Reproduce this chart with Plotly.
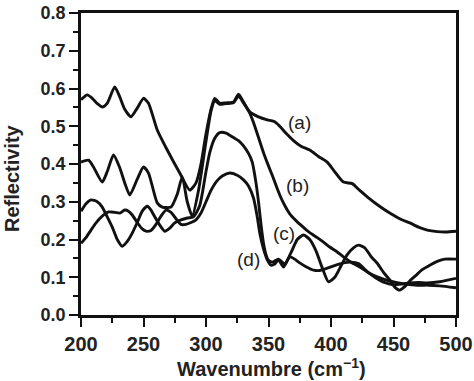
import plotly.graph_objects as go

# Curve (a)
xa = [200, 205, 209, 213, 217, 221, 227, 231, 235, 240, 245, 250, 254, 261, 269, 279, 287, 292, 296, 300,
      304, 307, 311, 316, 322, 326, 330, 335, 342, 349, 355, 359, 365, 370, 376, 383, 390, 397, 402, 410,
      417, 423, 429, 438, 447, 455, 463, 470, 477, 485, 492, 500]
ya = [0.570, 0.583, 0.574, 0.560, 0.551, 0.561, 0.604, 0.578, 0.545, 0.525, 0.548, 0.574, 0.561, 0.490,
      0.437, 0.376, 0.331, 0.350, 0.400, 0.480, 0.545, 0.574, 0.561, 0.562, 0.564, 0.585, 0.564, 0.538,
      0.525, 0.517, 0.512, 0.500, 0.478, 0.462, 0.447, 0.437, 0.420, 0.405, 0.384, 0.352, 0.348, 0.330,
      0.313, 0.290, 0.270, 0.255, 0.244, 0.233, 0.225, 0.221, 0.220, 0.222]

# Curve (b)
xb = [200, 206, 210, 217, 221, 226, 231, 235, 239, 245, 250, 254, 261, 265, 272, 277, 281, 285, 289, 294,
      300, 304, 307, 311, 316, 322, 326, 330, 335, 338, 342, 346, 350, 353, 359, 363, 367, 372, 378, 383,
      389, 394, 399, 405, 410, 416, 423, 430, 437, 447, 457, 469, 478, 487, 500]
yb = [0.405, 0.410, 0.392, 0.352, 0.380, 0.424, 0.390, 0.350, 0.318, 0.360, 0.392, 0.376, 0.297, 0.286,
      0.286, 0.320, 0.366, 0.300, 0.262, 0.330, 0.460, 0.540, 0.568, 0.558, 0.560, 0.562, 0.580, 0.562,
      0.535, 0.510, 0.470, 0.430, 0.395, 0.370, 0.318, 0.290, 0.268, 0.250, 0.232, 0.218, 0.205, 0.193,
      0.180, 0.167, 0.154, 0.140, 0.127, 0.112, 0.101, 0.090, 0.083, 0.079, 0.079, 0.077, 0.072]

# Curve (c)
xc = [200, 204, 208, 213, 217, 221, 225, 229, 233, 237, 241, 245, 249, 253, 256, 259, 263, 267, 271, 275,
      280, 285, 290, 295, 300, 303, 307, 311, 316, 322, 326, 330, 334, 337, 340, 342, 344, 346, 348, 350,
      353, 358, 363, 368, 373, 378, 383, 388, 393, 398, 403, 408, 413, 418, 422, 427, 432, 437, 442, 447,
      451, 455, 459, 463, 468, 473, 479, 485, 491, 500]
yc = [0.275, 0.295, 0.305, 0.300, 0.286, 0.260, 0.233, 0.200, 0.182, 0.195, 0.217, 0.245, 0.275, 0.288,
      0.278, 0.260, 0.238, 0.222, 0.230, 0.244, 0.252, 0.257, 0.260, 0.290, 0.380, 0.430, 0.468, 0.483,
      0.482, 0.470, 0.462, 0.448, 0.428, 0.405, 0.350, 0.300, 0.240, 0.190, 0.160, 0.145, 0.140, 0.148,
      0.135, 0.165, 0.200, 0.212, 0.200, 0.170, 0.125, 0.088, 0.100, 0.130, 0.160, 0.178, 0.185, 0.178,
      0.155, 0.137, 0.113, 0.093, 0.074, 0.066, 0.075, 0.090, 0.105, 0.120, 0.132, 0.142, 0.148, 0.148]

# Curve (d)
xd = [200, 204, 208, 212, 217, 222, 227, 231, 235, 238, 241, 245, 249, 252, 256, 260, 264, 268, 272, 276,
      280, 284, 288, 292, 296, 300, 304, 308, 313, 319, 325, 330, 334, 338, 341, 343, 346, 349, 352, 355,
      358, 362, 367, 371, 375, 380, 386, 391, 397, 404, 410, 416, 422, 429, 436, 442, 450, 457, 463, 470,
      477, 487, 500]
yd = [0.190, 0.205, 0.225, 0.244, 0.262, 0.273, 0.272, 0.270, 0.278, 0.275, 0.265, 0.245, 0.228, 0.222,
      0.224, 0.240, 0.262, 0.278, 0.272, 0.255, 0.240, 0.240, 0.245, 0.252, 0.270, 0.300, 0.330, 0.352,
      0.368, 0.376, 0.370, 0.358, 0.342, 0.310, 0.260, 0.217, 0.175, 0.146, 0.132, 0.135, 0.146, 0.127,
      0.154, 0.148, 0.138, 0.128, 0.119, 0.118, 0.124, 0.132, 0.138, 0.140, 0.136, 0.115, 0.098, 0.087,
      0.080, 0.082, 0.085, 0.086, 0.085, 0.088, 0.097]

labels = ["(a)", "(b)", "(c)", "(d)"]
label_x = [375, 373, 362, 334]
label_y = [0.509, 0.342, 0.215, 0.146]

x_ticks = [200, 250, 300, 350, 400, 450, 500]
y_ticks = [0.0, 0.1, 0.2, 0.3, 0.4, 0.5, 0.6, 0.7, 0.8]

FONT = "Liberation Sans"
fig = go.Figure()
for xs, ys in [(xa, ya), (xb, yb), (xc, yc), (xd, yd)]:
    fig.add_trace(go.Scatter(x=xs, y=ys, mode="lines",
                             line=dict(color="#111111", width=2.9, shape="spline", smoothing=0.6),
                             showlegend=False, hoverinfo="skip"))

for t, lx, ly in zip(labels, label_x, label_y):
    fig.add_annotation(x=lx, y=ly, text=t, showarrow=False, xref="x", yref="y",
                       font=dict(family=FONT, size=19, color="#222222"))

fig.add_annotation(xref="paper", yref="paper", x=-0.184, y=0.4536, text="<b>Reflectivity</b>",
                   textangle=-90, showarrow=False, xanchor="center", yanchor="middle",
                   font=dict(family=FONT, size=20, color="#222222"))
fig.add_annotation(xref="paper", yref="paper", x=0.509, y=-0.174, text="<b>Wavenumbre (cm<sup>−1</sup>)</b>",
                   showarrow=False, xanchor="center", yanchor="middle",
                   font=dict(family=FONT, size=20, color="#222222"))

axis_common = dict(showline=True, linecolor="#111111", linewidth=2.8, mirror=True, showgrid=False,
                   zeroline=False, ticks="outside", ticklen=9, tickwidth=2.4, tickcolor="#111111",
                   automargin=False)
fig.update_xaxes(range=[200, 500], tickvals=x_ticks,
                 tickfont=dict(family=FONT, size=20, color="#222222", weight="bold"),
                 minor=dict(dtick=25, tick0=200, ticks="outside", ticklen=5, tickwidth=2.2, tickcolor="#111111"),
                 **axis_common)
fig.update_yaxes(range=[0, 0.8], tickvals=y_ticks, tickformat=".1f",
                 tickfont=dict(family=FONT, size=18, color="#222222", weight="bold"),
                 minor=dict(dtick=0.05, tick0=0, ticks="outside", ticklen=5, tickwidth=2.2, tickcolor="#111111"),
                 **axis_common)
fig.update_layout(width=474, height=381, margin=dict(l=81, r=18, t=13, b=66, autoexpand=False),
                  plot_bgcolor="white", paper_bgcolor="white")
fig.write_html("out.html", config={"displayModeBar": False},
               post_script="document.body.style.margin='0px';document.body.style.overflow='hidden';")
